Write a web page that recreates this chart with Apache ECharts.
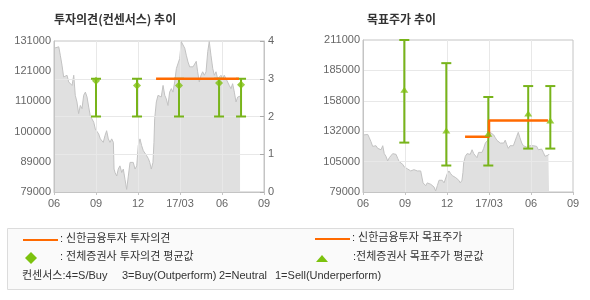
<!DOCTYPE html>
<html><head><meta charset="utf-8">
<script src="https://cdn.jsdelivr.net/npm/echarts@6/dist/echarts.min.js"></script>
<style>html,body{margin:0;padding:0;background:#fff}#c{width:590px;height:300px}</style>
</head><body><div id="c"></div>
<script>
// x values are months since 2016-06-01
const xTickLabels = ['06', '09', '12', '17/03', '06', '09'];
const priceMonths = [
  0, 0.05, 0.34, 0.45, 0.57, 0.69, 0.81, 0.93, 1.05, 1.16,
  1.29, 1.41, 1.52, 1.64, 1.76, 1.88, 2.0, 2.12, 2.24, 2.36,
  2.48, 2.59, 2.71, 2.84, 2.95, 3.07, 3.19, 3.31, 3.41, 3.52,
  3.64, 3.76, 3.88, 4.0, 4.12, 4.24, 4.29, 4.36, 4.48, 4.59,
  4.71, 4.84, 4.95, 5.07, 5.19, 5.31, 5.43, 5.55, 5.66, 5.79,
  5.91, 6.02, 6.14, 6.26, 6.38, 6.5, 6.62, 6.74, 6.84, 6.95,
  7.07, 7.14, 7.19, 7.31, 7.43, 7.55, 7.66, 7.79, 7.91, 8.02,
  8.14, 8.26, 8.38, 8.5, 8.62, 8.74, 8.86, 8.98, 9.09, 9.21,
  9.34, 9.45, 9.57, 9.69, 9.81, 9.93, 10.05, 10.16, 10.26, 10.38,
  10.5, 10.62, 10.74, 10.86, 10.98, 11.09, 11.21, 11.34, 11.45, 11.57,
  11.69, 11.81, 11.93, 12.05, 12.16, 12.29, 12.41, 12.52, 12.64, 12.76,
  12.88, 13.0, 13.12, 13.24, 13.29
];
const prices = [
  128500, 129000, 129000, 126100, 122700, 118600, 118000, 119200, 116900, 116300,
  115700, 119200, 112300, 110000, 106000, 108800, 107700, 112300, 113400, 111700,
  108200, 105300, 104800, 103000, 100700, 100100, 99000, 97300, 97300, 96100,
  98400, 100100, 97300, 96100, 97300, 96100, 86900, 85700, 84500, 86900,
  88000, 85700, 86900, 83400, 79900, 84500, 89200, 89700, 89200, 86900,
  88000, 95000, 97300, 95000, 93200, 93800, 91500, 90500, 89200, 86900,
  89200, 96100, 104200, 110000, 112300, 112900, 111700, 115700, 112300, 111100,
  108800, 113400, 114600, 113400, 116900, 121500, 122100, 125000, 130800, 131000,
  128500, 126100, 123800, 122100, 121500, 122100, 121500, 124000, 120400, 116900,
  119200, 120400, 119200, 120400, 127300, 130800, 126100, 121500, 119200, 120400,
  118000, 118600, 119200, 118000, 119200, 118000, 118600, 115700, 114600, 116300,
  113400, 110000, 111700, 111100, 112000
];
// consensus opinion (right axis 0-4)
const opinionX = [3.0, 5.93, 8.93, 11.79, 13.36];
const opinionLow = [2, 2, 2, 2, 2];
const opinionHigh = [3, 3, 3, 3, 3];
const opinionAvg = [2.95, 2.82, 2.82, 2.89, 2.84];
// Shinhan opinion
const shinhanOpinionX = [7.29, 13.21];
const shinhanOpinion = [3, 3];
// target price consensus
const targetX = [2.95, 5.95, 8.95, 11.8, 13.38];
const targetLow = [121900, 102000, 102000, 116700, 116700];
const targetHigh = [211000, 190900, 161500, 171000, 171000];
const targetAvg = [167900, 132500, 129600, 147200, 141100];
// Shinhan target price (step)
const shinhanTargetX = [7.29, 9.0, 9.0, 13.21];
const shinhanTarget = [127000, 127000, 141000, 141000];

const GREEN = '#78b41a', MARK = '#80bf12', ORANGE = '#ff6a00';
const GRIDC = '#e8e8e8', BORDER = '#c4c4c4', LABEL = '#666';
const LFONT = '11px "Liberation Sans", "Noto Sans CJK KR", sans-serif';
const zip = (a, b) => a.map((v, i) => [v, b[i]]);
const priceData = zip(priceMonths, prices);

function errRender(params, api) {
  const x = api.value(0);
  const lo = api.coord([x, api.value(1)]);
  const hi = api.coord([x, api.value(2)]);
  const hw = 5;
  const st = { stroke: GREEN, lineWidth: 2 };
  return { type: 'group', children: [
    { type: 'line', shape: { x1: lo[0], y1: lo[1], x2: hi[0], y2: hi[1] }, style: st },
    { type: 'line', shape: { x1: lo[0] - hw, y1: lo[1], x2: lo[0] + hw, y2: lo[1] }, style: st },
    { type: 'line', shape: { x1: hi[0] - hw, y1: hi[1], x2: hi[0] + hw, y2: hi[1] }, style: st }
  ]};
}

const xAxisBase = (gi) => ({
  type: 'value', gridIndex: gi, min: 0, max: 15, interval: 3, z: 3,
  axisLine: { show: true, lineStyle: { color: BORDER } },
  axisTick: { show: true, length: 3, lineStyle: { color: BORDER } },
  axisLabel: { color: LABEL, fontSize: 11, fontFamily: 'Liberation Sans, Arial, sans-serif', margin: 6,
    formatter: v => xTickLabels[Math.round(v / 3)] },
  splitLine: { show: true, showMinLine: false, showMaxLine: false, lineStyle: { color: GRIDC } }
});
const kFmt = v => String(Math.round(v / 1000) * 1000);

const chart = echarts.init(document.getElementById('c'), null, { renderer: 'canvas' });
chart.setOption({
  animation: false,
  backgroundColor: '#fff',
  title: [
    { text: '투자의견(컨센서스) 추이', left: 54, top: 13, padding: 0,
      textStyle: { fontSize: 12, fontWeight: 'bold', color: '#333', fontFamily: 'Noto Sans CJK KR' } },
    { text: '목표주가 추이', left: 367, top: 13, padding: 0,
      textStyle: { fontSize: 12, fontWeight: 'bold', color: '#333', fontFamily: 'Noto Sans CJK KR' } }
  ],
  grid: [
    { left: 54, top: 41, width: 210, height: 151, show: true, borderColor: BORDER, borderWidth: 1, backgroundColor: 'transparent' },
    { left: 363, top: 40, width: 210, height: 152, show: true, borderColor: BORDER, borderWidth: 1, backgroundColor: 'transparent' }
  ],
  xAxis: [xAxisBase(0), xAxisBase(1)],
  yAxis: [
    { type: 'value', gridIndex: 0, min: 79000, max: 131000, interval: 10400, position: 'left', z: 3,
      axisLine: { show: true, lineStyle: { color: BORDER } }, axisTick: { show: false },
      axisLabel: { color: LABEL, fontSize: 11, fontFamily: 'Liberation Sans, Arial, sans-serif', margin: 3, formatter: kFmt },
      splitLine: { show: false } },
    { type: 'value', gridIndex: 0, min: 0, max: 4, interval: 1, position: 'right', z: 3,
      axisLine: { show: true, lineStyle: { color: BORDER } },
      axisTick: { show: true, inside: true, length: 4, lineStyle: { color: '#aaa' } },
      axisLabel: { color: LABEL, fontSize: 11, fontFamily: 'Liberation Sans, Arial, sans-serif', margin: 4 },
      splitLine: { show: true, showMinLine: false, showMaxLine: false, lineStyle: { color: GRIDC } } },
    { type: 'value', gridIndex: 1, min: 79000, max: 211000, interval: 26400, position: 'left', z: 3,
      axisLine: { show: true, lineStyle: { color: BORDER } }, axisTick: { show: false },
      axisLabel: { color: LABEL, fontSize: 11, fontFamily: 'Liberation Sans, Arial, sans-serif', margin: 3, formatter: kFmt },
      splitLine: { show: true, showMinLine: false, showMaxLine: false, lineStyle: { color: GRIDC } } }
  ],
  series: [
    { type: 'line', xAxisIndex: 0, yAxisIndex: 0, data: priceData, showSymbol: false, z: 2,
      lineStyle: { color: '#c2c2c2', width: 1 }, areaStyle: { color: '#e0e0e0', opacity: 1, origin: 'start' } },
    { type: 'line', xAxisIndex: 1, yAxisIndex: 2, data: priceData, showSymbol: false, z: 2,
      lineStyle: { color: '#c2c2c2', width: 1 }, areaStyle: { color: '#e0e0e0', opacity: 1, origin: 'start' } },
    { type: 'line', xAxisIndex: 0, yAxisIndex: 1, data: zip(shinhanOpinionX, shinhanOpinion), showSymbol: false, z: 6,
      lineStyle: { color: ORANGE, width: 2.5 } },
    { type: 'line', xAxisIndex: 1, yAxisIndex: 2, data: zip(shinhanTargetX, shinhanTarget), showSymbol: false, z: 6,
      lineStyle: { color: ORANGE, width: 2.5 } },
    { type: 'custom', xAxisIndex: 0, yAxisIndex: 1, renderItem: errRender, z: 5,
      encode: { x: 0, y: [1, 2] }, data: opinionX.map((x, i) => [x, opinionLow[i], opinionHigh[i]]) },
    { type: 'custom', xAxisIndex: 1, yAxisIndex: 2, renderItem: errRender, z: 5,
      encode: { x: 0, y: [1, 2] }, data: targetX.map((x, i) => [x, targetLow[i], targetHigh[i]]) },
    { type: 'scatter', xAxisIndex: 0, yAxisIndex: 1, data: zip(opinionX, opinionAvg), z: 7,
      symbol: 'diamond', symbolSize: [8, 8], itemStyle: { color: MARK } },
    { type: 'scatter', xAxisIndex: 1, yAxisIndex: 2, data: zip(targetX, targetAvg), z: 7,
      symbol: 'triangle', symbolSize: [8, 6], itemStyle: { color: MARK } }
  ],
  graphic: [
    { type: 'rect', left: 7, top: 228, shape: { width: 506, height: 61 },
      style: { fill: '#fafafa', stroke: '#dcdcdc', lineWidth: 1 } },
    { type: 'line', shape: { x1: 23, y1: 240, x2: 58, y2: 240 }, style: { stroke: ORANGE, lineWidth: 2 } },
    { type: 'text', left: 60, top: 233, style: { text: ': 신한금융투자 투자의견', fill: '#333', font: LFONT } },
    { type: 'line', shape: { x1: 315, y1: 239, x2: 350, y2: 239 }, style: { stroke: ORANGE, lineWidth: 2 } },
    { type: 'text', left: 352, top: 232, style: { text: ': 신한금융투자 목표주가', fill: '#333', font: LFONT } },
    { type: 'polygon', shape: { points: [[31, 252], [37, 258], [31, 264], [25, 258]] }, style: { fill: '#7cc20e' } },
    { type: 'text', left: 60, top: 251, style: { text: ': 전체증권사 투자의견 평균값', fill: '#333', font: LFONT } },
    { type: 'polygon', shape: { points: [[322, 255], [328, 262], [316, 262]] }, style: { fill: '#7cc20e' } },
    { type: 'text', left: 353, top: 251, style: { text: ':전체증권사 목표주가 평균값', fill: '#333', font: LFONT } },
    { type: 'text', left: 22, top: 270, style: { text: '컨센서스:4=S/Buy', fill: '#333', font: LFONT } },
    { type: 'text', left: 122, top: 270, style: { text: '3=Buy(Outperform)', fill: '#333', font: LFONT } },
    { type: 'text', left: 219, top: 270, style: { text: '2=Neutral', fill: '#333', font: LFONT } },
    { type: 'text', left: 275, top: 270, style: { text: '1=Sell(Underperform)', fill: '#333', font: LFONT } }
  ]
});
</script></body></html>
